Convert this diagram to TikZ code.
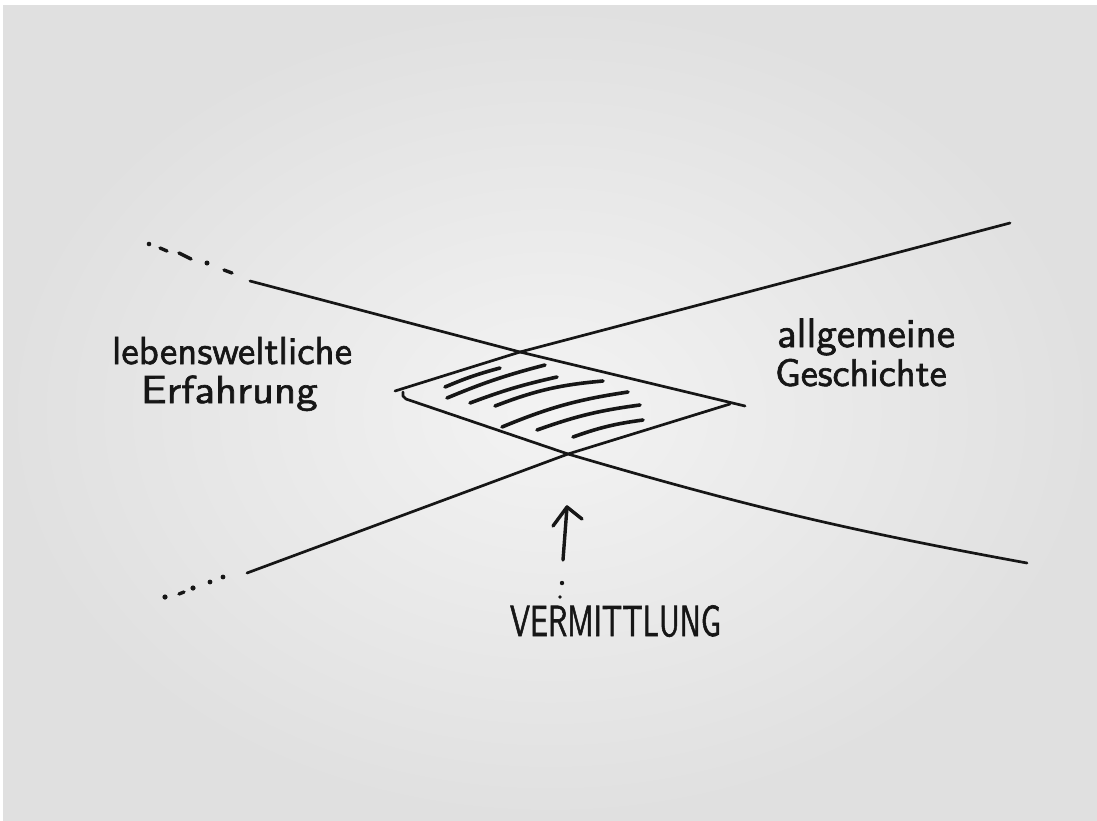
\documentclass[tikz,border=0pt]{standalone}
\usepackage{graphicx}
\usepackage{fontspec}
\newfontfamily\hand{lmsans10-regular.otf}[FakeBold=1.6]
\definecolor{ink}{RGB}{22,22,22}
\definecolor{paperin}{RGB}{243,243,243}
\definecolor{paperout}{RGB}{224,224,224}
\begin{document}
\begin{tikzpicture}[x=1pt,y=-1pt,
  ln/.style={draw=ink,line width=2.7pt,line cap=round,line join=round},
  hatch/.style={draw=ink,line width=3.6pt,line cap=round},
  dot/.style={fill=ink,draw=none},
  lbl/.style={inner sep=0pt,outer sep=0pt,anchor=base west,text=ink,font=\hand\fontsize{39}{39}\selectfont}]
\useasboundingbox (0,0) rectangle (1097,820);
\fill[white] (0,0) rectangle (1097,820);
\shade[inner color=paperin,outer color=paperout] (3,5) rectangle (1097,820);
% key points
\coordinate (xTop) at (520,352);
\coordinate (xBot) at (568,454);
\coordinate (tipL1) at (395,391);
\coordinate (tipL2) at (406,399);
\coordinate (tipR1) at (745,406);
\coordinate (tipR2) at (730,404);
\coordinate (endUL) at (250,281);
\coordinate (endUR) at (1010,223);
\coordinate (endLL) at (247,573);
\coordinate (endLR) at (1027,563);
% main lines
\draw[ln] (endUL) -- (xTop) -- (tipR1);
\draw[ln] (endUR) -- (xTop) -- (tipL1);
\draw[ln] (endLL) -- (xBot) -- (tipR2);
\draw[ln] (403,392) to[out=250,in=160] (tipL2) -- (xBot) to[bend right=3] (endLR);
% dashed extension upper left
\fill[dot] (149,244) circle (2.3);
\draw[ln,line width=3.4pt] (160,248) -- (167,251);
\draw[ln,line width=3.4pt] (179,253) -- (191,259);
\fill[dot] (207,263) circle (2.5);
\draw[ln,line width=3.4pt] (224,270) -- (232,273);
% dotted extension lower left
\fill[dot] (165,597) circle (2.6);
\draw[ln,line width=3.4pt] (179,594) -- (184,592);
\fill[dot] (193,588) circle (2.6);
\fill[dot] (210,582) circle (2.4);
\fill[dot] (223,577) circle (2.4);
% hatching
\draw[hatch] (445,387) to[bend left=4] (500,368);
\draw[hatch] (447,398) to[bend left=4] (545,365);
\draw[hatch] (470,403) to[bend left=4] (557,377);
\draw[hatch] (495,406) to[bend left=8] (603,381);
\draw[hatch] (502,427) to[bend left=7] (628,392);
\draw[hatch] (537,430) to[bend left=6] (640,405);
\draw[hatch] (573,437) to[bend left=6] (643,420);
% labels
\node[lbl] (leb) at (112,364) {lebensweltliche};
\node[lbl] (erf) at (141,403) {\scalebox{1.1}[1]{Erfahrung}};
\node[lbl,font=\hand\fontsize{41}{41}\selectfont] (allg) at (777,347) {allgemeine};
\node[lbl,font=\hand\fontsize{38.5}{38.5}\selectfont] (gesch) at (775,386) {Geschichte};
\node[lbl,font=\hand\fontsize{30}{30}\selectfont] (verm) at (510,636) {\scalebox{1}[1.45]{VERMITTLUNG}};
% arrow
\coordinate (arrTail) at (563,560);
\coordinate (arrTip) at (567,507);
\draw[ln,line width=3.4pt] (arrTail) -- (arrTip);
\draw[ln,line width=3.4pt] (553,526) -- (arrTip) -- (582,519);
\fill[dot] (562,583) circle (2.2);
\fill[dot] (560,597) circle (1.8);
\end{tikzpicture}
\end{document}
